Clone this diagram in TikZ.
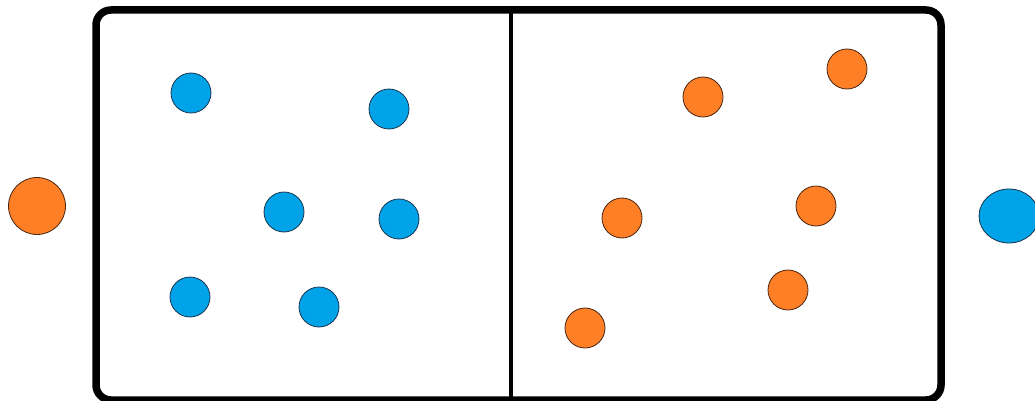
\documentclass[tikz,border=0pt]{standalone}
\usepackage{tikz}
\usetikzlibrary{shapes.geometric}
\definecolor{ballblue}{HTML}{00A2E8}
\definecolor{ballorange}{HTML}{FF7F27}
\definecolor{blueedge}{HTML}{1A3550}
\definecolor{orangeedge}{HTML}{4A2410}

\begin{document}
\begin{tikzpicture}[
  x=1pt, y=-1pt,
  bluedot/.style    = {circle, fill=ballblue, draw=blueedge, line width=0.8pt,
                       minimum size=40pt, inner sep=0pt},
  orangedot/.style  = {circle, fill=ballorange, draw=orangeedge, line width=0.8pt,
                       minimum size=40pt, inner sep=0pt},
  frame/.style      = {draw=black, line width=7.5pt, rounded corners=15pt},
  divider/.style    = {draw=black, line width=4pt},
]
\useasboundingbox (0,0) rectangle (1035,401);
% container with its two halves
\draw[frame] (96,10) rectangle (941,400);
\draw[divider] (511,10) -- (511,400);
% left half
\node[bluedot] (b1) at (191,93)  {};
\node[bluedot] (b2) at (389,109) {};
\node[bluedot] (b3) at (284,212) {};
\node[bluedot] (b4) at (399,219) {};
\node[bluedot] (b5) at (190,297) {};
\node[bluedot] (b6) at (319,307) {};
% right half
\node[orangedot] (o1) at (703,97)  {};
\node[orangedot] (o2) at (847,69)  {};
\node[orangedot] (o3) at (622,218) {};
\node[orangedot] (o4) at (816,206) {};
\node[orangedot] (o5) at (788,290) {};
\node[orangedot] (o6) at (585,328) {};
% outside
\node[orangedot, minimum size=57pt] (oout) at (37,206) {};
\node[bluedot, ellipse, minimum width=60pt, minimum height=54pt] (bout) at (1009,216) {};
\end{tikzpicture}
\end{document}
